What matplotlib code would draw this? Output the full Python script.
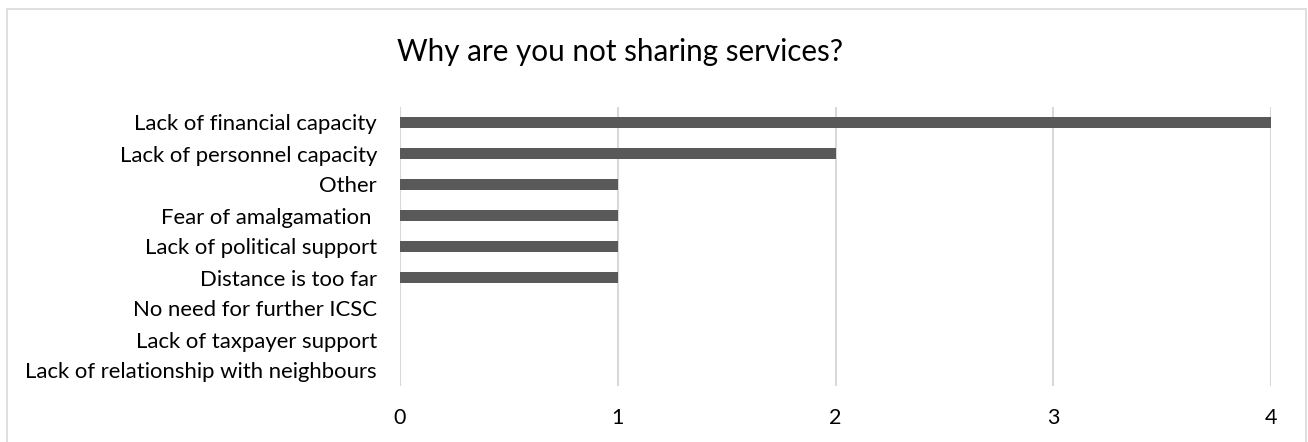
import matplotlib.pyplot as plt
from matplotlib.patches import Rectangle

# data, top to bottom as shown
reasons = [
    'Lack of financial capacity',
    'Lack of personnel capacity',
    'Other',
    'Fear of amalgamation ',
    'Lack of political support',
    'Distance is too far',
    'No need for further ICSC',
    'Lack of taxpayer support',
    'Lack of relationship with neighbours',
]
counts = [4, 2, 1, 1, 1, 1, 0, 0, 0]
ticks = [0, 1, 2, 3, 4]

plt.rcParams['font.family'] = ['Lato', 'DejaVu Sans']

fig = plt.figure(figsize=(13.08, 4.42), dpi=100)

# light grey chart border like the Excel frame
fig.patches.append(Rectangle((6.5 / 1308, -0.05), (1306 - 6.5) / 1308, 1.05 - 8.5 / 442,
                             transform=fig.transFigure, fill=False,
                             edgecolor='#d9d9d9', linewidth=1.2))

ax = fig.add_axes([400 / 1308, 1 - 386 / 442, (1271 - 400) / 1308, (386 - 107) / 442])

ypos = list(range(len(reasons)))
ax.barh(ypos, counts, height=0.36, color='#595959', zorder=3)
ax.set_ylim(len(reasons) - 0.5, -0.5)
ax.set_yticks(ypos)
ax.set_yticklabels(reasons, fontsize=15.9)
ax.set_xlim(0, 4)
ax.set_xticks(ticks)
ax.set_xticklabels([str(t) for t in ticks], fontsize=15.5)
ax.tick_params(length=0)
ax.tick_params(axis='y', pad=16.5)
ax.tick_params(axis='x', pad=16)

ax.grid(axis='x', color='#d9d9d9', linewidth=1.5, zorder=0)
for s in ax.spines.values():
    s.set_visible(False)

fig.text(620 / 1308, 1 - 52 / 442, 'Why are you not sharing services?',
         ha='center', va='center', fontsize=21.3)

fig.savefig('out.png', dpi=100)
